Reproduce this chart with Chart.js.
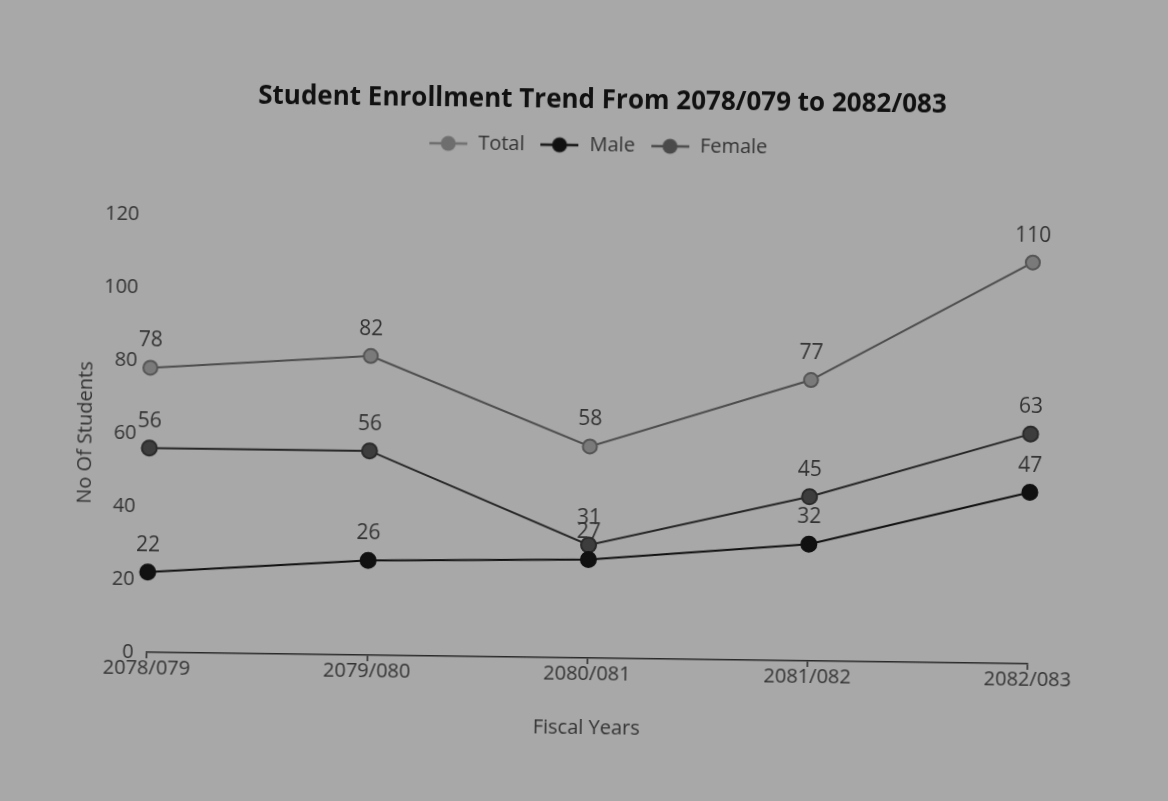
<!DOCTYPE html>
<html>
<head>
<meta charset="utf-8">
<script src="https://cdn.jsdelivr.net/npm/chart.js@4.4.1/dist/chart.umd.min.js"></script>
<style>
    html, body { margin: 0; padding: 0; background: #a8a8a8; overflow: hidden; }
    #wrap { width: 1168px; height: 801px; transform: rotate(0.75deg); }
</style>
</head>
<body>
<div id="wrap"><canvas id="enrollmentChart" width="1168" height="801"></canvas></div>
<script>
// values
const fiscalYears = ['2078/079', '2079/080', '2080/081', '2081/082', '2082/083'];
const totalStudents = [78, 82, 58, 77, 110];
const maleStudents = [22, 26, 27, 32, 47];
const femaleStudents = [56, 56, 31, 45, 63];
const yTickValues = [0, 20, 40, 60, 80, 100, 120];

const fontFamily = "'Open Sans', 'Noto Sans', sans-serif";
Chart.defaults.font.family = fontFamily;
Chart.defaults.color = '#2e2e2e';

//legend marker: short line with a dot on it
function legendMarker(color) {
    const c = document.createElement('canvas');
    c.width = 38;
    c.height = 18;
    const g = c.getContext('2d');
    g.strokeStyle = color;
    g.lineWidth = 2.5;
    g.beginPath();
    g.moveTo(0, 9);
    g.lineTo(38, 9);
    g.stroke();
    g.fillStyle = color;
    g.beginPath();
    g.arc(19, 9, 7.5, 0, Math.PI * 2);
    g.fill();
    return c;
}

//value above each point
const pointValueLabels = {
    id: 'pointValueLabels',
    afterDatasetsDraw(chart) {
        const ctx = chart.ctx;
        ctx.save();
        ctx.font = '21px ' + fontFamily;
        ctx.fillStyle = '#333';
        ctx.textAlign = 'center';
        ctx.textBaseline = 'middle';
        chart.data.datasets.forEach((ds, i) => {
            chart.getDatasetMeta(i).data.forEach((pt, j) => {
                ctx.fillText(ds.data[j], pt.x, pt.y - 27);
            });
        });
        ctx.restore();
    }
};

//room under the legend and header centering
const headerLayout = {
    id: 'headerLayout',
    beforeInit(chart) {
        const fit = chart.legend.fit;
        chart.legend.fit = function () {
            fit.call(this);
            this.height += 55;
        };
    },
    afterLayout(chart) {
        chart.titleBlock.left += 48;
        chart.titleBlock.right += 48;
        chart.legend.left += 44;
        chart.legend.right += 44;
    }
};

const totalSet = {
    label: 'Total',
    data: totalStudents,
    borderColor: '#4d4d4d',
    backgroundColor: '#7a7a7a',
    pointBorderColor: '#555',
    borderWidth: 2,
    pointRadius: 7,
    marker: '#6e6e6e'
};

const maleSet = {
    label: 'Male',
    data: maleStudents,
    borderColor: '#111',
    backgroundColor: '#111',
    pointBorderColor: '#111',
    borderWidth: 2,
    pointRadius: 7.5,
    marker: '#111'
};

const femaleSet = {
    label: 'Female',
    data: femaleStudents,
    borderColor: '#262626',
    backgroundColor: '#3d3d3d',
    pointBorderColor: '#2a2a2a',
    borderWidth: 2,
    pointRadius: 7.5,
    marker: '#4a4a4a'
};

var ctx = document.getElementById('enrollmentChart');

new Chart(ctx, {
    type: 'line',
    data: {
        labels: fiscalYears,
        datasets: [totalSet, maleSet, femaleSet]
    },
    plugins: [pointValueLabels, headerLayout],
    options: {
        responsive: false,
        animation: false,
        layout: {
            padding: { top: 75, left: 70, right: 137, bottom: 53 }
        },
        plugins: {
            title: {
                display: true,
                text: 'Student Enrollment Trend From 2078/079 to 2082/083',
                color: '#111',
                font: { size: 26, weight: 'bold' },
                padding: { top: 10, bottom: 4 }
            },
            legend: {
                labels: {
                    usePointStyle: true,
                    pointStyleWidth: 40,
                    padding: 15,
                    color: '#333',
                    font: { size: 20 },
                    generateLabels(chart) {
                        const items = Chart.defaults.plugins.legend.labels.generateLabels(chart);
                        items.forEach(item => {
                            item.pointStyle = legendMarker(chart.data.datasets[item.datasetIndex].marker);
                        });
                        return items;
                    }
                }
            },
            tooltip: { enabled: false }
        },
        scales: {
            x: {
                offset: false,
                grid: {
                    display: true,
                    drawOnChartArea: false,
                    drawTicks: true,
                    tickLength: 6,
                    color: '#2a2a2a',
                    lineWidth: 1.5
                },
                border: { display: true, color: '#2a2a2a', width: 1.5 },
                ticks: {
                    color: '#333',
                    font: { size: 20 },
                    padding: -2,
                    maxRotation: 0,
                    autoSkip: false
                },
                title: {
                    display: true,
                    text: 'Fiscal Years',
                    color: '#333',
                    font: { size: 20 },
                    padding: { top: 4, bottom: 8 }
                },
                afterFit(scale) {
                    scale.height = 90;
                }
            },
            y: {
                min: yTickValues[0],
                max: yTickValues[yTickValues.length - 1],
                grid: { display: false, drawTicks: false },
                border: { display: false },
                ticks: {
                    color: '#333',
                    font: { size: 20 },
                    padding: 13
                },
                afterBuildTicks(scale) {
                    scale.ticks = yTickValues.map(v => ({ value: v }));
                },
                title: {
                    display: true,
                    text: 'No Of Students',
                    color: '#333',
                    font: { size: 20 },
                    padding: { top: 4, bottom: 4 }
                },
                afterFit(scale) {
                    scale.width = 80;
                }
            }
        }
    }
});
</script>
</body>
</html>
